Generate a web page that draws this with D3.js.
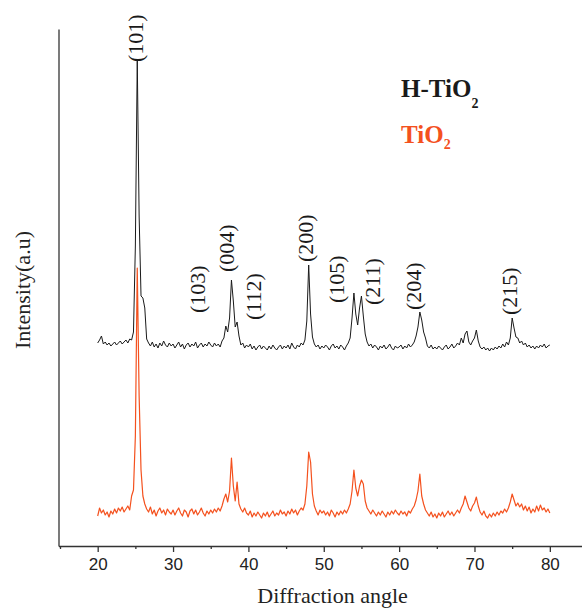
<!DOCTYPE html>
<html><head><meta charset="utf-8">
<script src="https://cdn.jsdelivr.net/npm/d3@7"></script>
<style>html,body{margin:0;padding:0;background:#fff;} svg{display:block;}</style>
</head><body><div id="chart"></div>
<script>
// 2-theta sampling: 20° to 80° every 0.25°
const angleStart = 20;
const angleStep = 0.25;

// H-TiO2 pattern (offset upward), intensity a.u.
const hTiO2 = [
  203,206,210,202,204,201,203,200,202,204,201,203,205,202,204,206,203,207,206,214,
  300,486,330,250,248,238,207,203,200,204,199,202,198,203,200,205,201,199,203,200,
  202,198,201,204,199,202,197,201,203,199,202,200,204,198,201,203,199,202,200,204,
  201,199,203,200,202,199,205,208,220,214,228,266,245,219,224,210,201,203,198,201,
  199,202,197,200,196,199,201,197,200,198,196,200,197,201,198,196,199,201,197,200,
  198,201,197,203,199,197,201,199,203,201,206,225,281,232,209,202,199,201,197,200,
  198,201,199,196,200,202,198,200,197,201,199,196,200,203,208,228,253,232,221,238,
  250,230,212,204,200,202,198,201,199,196,200,198,201,197,199,202,198,196,200,198,
  199,201,197,200,198,202,199,201,204,210,219,234,226,214,208,200,198,201,197,199,
  197,200,198,196,199,201,197,199,202,198,200,203,201,208,203,212,215,204,201,205,
  208,216,205,199,197,199,196,198,195,198,196,199,197,200,198,202,199,204,201,208,
  228,218,209,208,203,205,201,203,199,201,198,200,197,200,198,201,199,202,198,200,201
];

// TiO2 pattern, intensity a.u.
const tiO2 = [
  30,38,33,36,31,34,29,35,32,37,33,38,35,39,34,37,40,36,50,56,
  110,278,150,76,50,42,37,34,39,32,36,30,35,38,33,36,31,37,34,32,
  36,31,35,38,33,30,36,34,29,35,37,32,36,31,34,38,33,30,35,32,
  36,33,37,34,38,35,40,47,52,44,55,88,60,45,64,42,37,34,38,33,
  31,35,29,33,30,34,31,28,33,30,34,29,32,35,30,33,31,36,32,34,
  30,35,32,37,33,36,31,35,38,36,42,60,94,84,52,40,35,31,36,33,
  35,31,34,30,36,33,29,34,31,35,32,36,33,37,42,55,76,58,50,60,
  66,62,45,38,35,32,36,33,30,34,31,35,32,29,34,31,35,32,36,33,
  31,35,32,34,30,35,33,37,40,46,55,72,50,42,36,33,30,34,29,32,
  28,33,30,34,29,32,35,31,34,30,33,36,33,38,42,50,44,38,35,40,
  43,49,40,34,31,35,30,28,32,29,33,30,34,31,35,33,37,34,38,44,
  52,46,40,43,39,42,36,40,35,39,33,37,34,40,35,41,36,38,34,37,33
];

// Miller-index annotations
const peakLabels = ["(101)","(103)","(004)","(112)","(200)","(105)","(211)","(204)","(215)"];
const peakAngles = [25.32, 33.59, 37.35, 40.98, 47.88, 52.04, 56.72, 62.26, 74.96];
const peakLevels = [484, 233, 274, 226, 284, 243, 241, 236, 231];

const xTicks = [15,20,25,30,35,40,45,50,55,60,65,70,75,80];
const xDomain = [14.8, 84.4];
const yDomain = [0, 517];

const seriesNames = ["H-TiO", "TiO"];
const seriesColors = ["#1a1a1a", "#f4511e"];

const W = 582, H = 609;
const svg = d3.select("#chart").append("svg").attr("width", W).attr("height", H);

const x = d3.scaleLinear().domain(xDomain).range([58.5, 583]);
const y = d3.scaleLinear().domain(yDomain).range([546, 29]);

const serif = "'Liberation Serif','Times New Roman',serif";
const sans = "'Liberation Sans',Arial,sans-serif";

// axes
const xAxisMajor = d3.axisBottom(x)
  .tickValues(xTicks.filter(t => t % 10 === 0))
  .tickSize(6).tickSizeOuter(0).tickPadding(6)
  .tickFormat(d3.format("d"));
const xAxisMinor = d3.axisBottom(x)
  .tickValues(xTicks.filter(t => t % 10 !== 0))
  .tickSize(3).tickSizeOuter(0).tickFormat("");

const gx = svg.append("g").attr("transform", `translate(0,${y(0)})`).call(xAxisMajor);
svg.append("g").attr("transform", `translate(0,${y(0)})`).call(xAxisMinor)
  .select(".domain").remove();
gx.selectAll("text").attr("font-family", sans).attr("font-size", 17).attr("fill", "#222");
svg.selectAll(".domain, .tick line").attr("stroke", "#333").attr("stroke-width", 1.3);

const yAxis = d3.axisLeft(y).tickValues([]).tickSizeOuter(0);
svg.append("g").attr("transform", `translate(${x(xDomain[0])},0)`).call(yAxis)
  .select(".domain").attr("stroke", "#333").attr("stroke-width", 1.3);

// axis titles
svg.append("text").attr("x", 332.6).attr("y", 603)
  .attr("text-anchor", "middle").attr("font-family", serif).attr("font-size", 22)
  .attr("fill", "#222").text("Diffraction angle");
svg.append("text").attr("transform", "translate(30,290) rotate(-90)")
  .attr("text-anchor", "middle").attr("font-family", serif).attr("font-size", 22)
  .attr("fill", "#222").text("Intensity(a.u)");

// curves
const line = d3.line()
  .x((d, i) => x(angleStart + i * angleStep))
  .y(d => y(d));

svg.append("path").datum(tiO2).attr("d", line)
  .attr("fill", "none").attr("stroke", seriesColors[1]).attr("stroke-width", 1.2)
  .attr("stroke-linejoin", "round");
svg.append("path").datum(hTiO2).attr("d", line)
  .attr("fill", "none").attr("stroke", seriesColors[0]).attr("stroke-width", 1)
  .attr("stroke-linejoin", "round");

// peak labels
svg.append("g").selectAll("text").data(peakLabels).join("text")
  .attr("transform", (d, i) => `translate(${x(peakAngles[i])},${y(peakLevels[i])}) rotate(-90)`)
  .attr("dy", "0.24em")
  .attr("font-family", serif).attr("font-size", 22).attr("fill", "#1a1a1a")
  .text(d => d);

// legend
const legY = [97, 143];
const subDy = [11, 6];
seriesNames.forEach((n, i) => {
  const t = svg.append("text").attr("x", 401).attr("y", legY[i])
    .attr("font-family", serif).attr("font-weight", "bold").attr("font-size", 25)
    .attr("fill", seriesColors[i]);
  t.append("tspan").text(n);
  t.append("tspan").attr("dy", subDy[i]).attr("font-size", 14).text("2");
});
</script>
</body></html>
